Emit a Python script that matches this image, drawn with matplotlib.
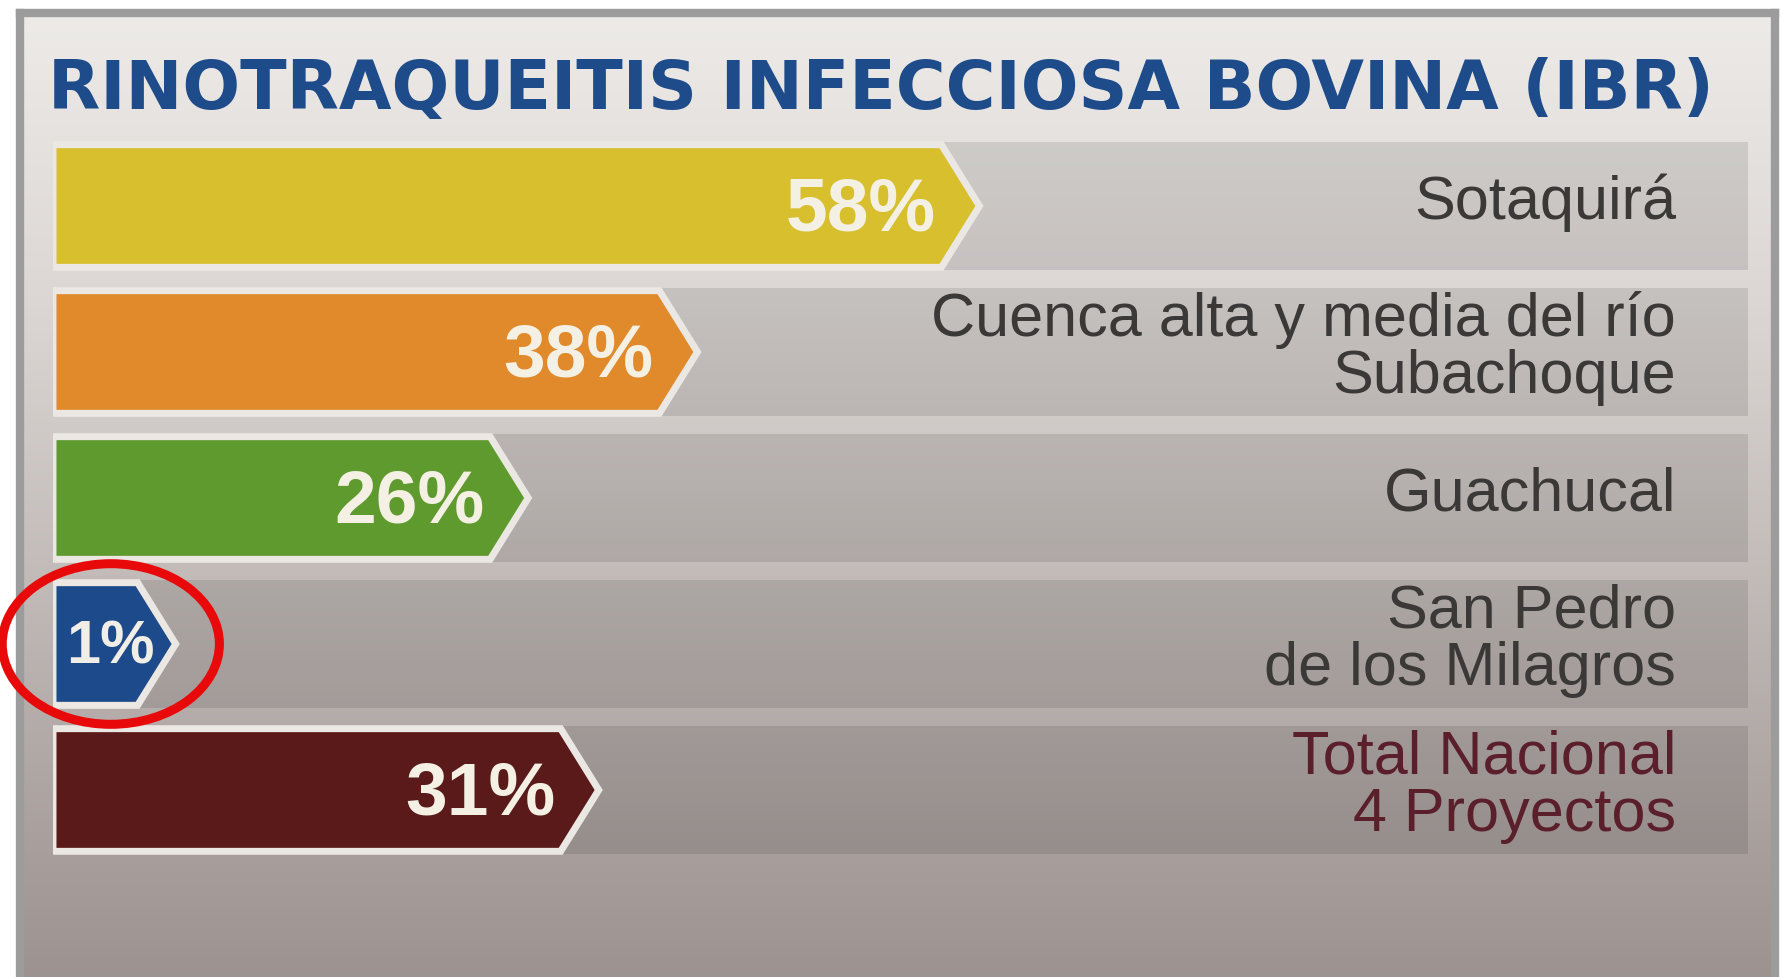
import numpy as np
import matplotlib
matplotlib.use("Agg")
import matplotlib.pyplot as plt
from matplotlib.patches import Polygon, Ellipse

plt.rcParams['font.family'] = ['Liberation Sans', 'DejaVu Sans']

# data
title = "RINOTRAQUEITIS INFECCIOSA BOVINA (IBR)"
categories = ["Sotaquirá",
              "Cuenca alta y media del río\nSubachoque",
              "Guachucal",
              "San Pedro\nde los Milagros",
              "Total Nacional\n4 Proyectos"]
values = [58, 38, 26, 1, 31]
bar_colors = ["#d8bf2e", "#e08a2b", "#5f9a2f", "#1d4a8a", "#5a1a1a"]
label_colors = ["#3b3838", "#3b3838", "#3b3838", "#3b3838", "#5b1f2b"]

W, H = 1791, 978
fig = plt.figure(figsize=(W / 100, H / 100), dpi=100)
fig.patch.set_facecolor("white")

# card background with photo-like shading
ax_bg = fig.add_axes([20 / W, -0.01, 1755 / W, 1.0 - 14 / H + 0.01])
ys = np.linspace(0, 1, 300)
top = np.array([0.93, 0.92, 0.91])
mid = np.array([0.86, 0.84, 0.83])
bot = np.array([0.61, 0.57, 0.56])
grad = np.where(ys[:, None] < 0.3,
                top + (mid - top) * (ys[:, None] / 0.3),
                mid + (bot - mid) * ((ys[:, None] - 0.3) / 0.7))
ax_bg.imshow(grad[:, None, :], aspect="auto", extent=[0, 1, 1, 0])
ax_bg.set_xticks([])
ax_bg.set_yticks([])
for s in ax_bg.spines.values():
    s.set_color("#9c9c9c")
    s.set_linewidth(6)

fig.text(48 / W, 1 - 90 / H, title, ha="left", va="center", fontsize=49,
         weight="bold", color="#1e4b8a", family="DejaVu Sans")

# main chart area
ax = fig.add_axes([53 / W, (H - 864) / H, 1695 / W, 730 / H])
ax.set_xlim(-5, 115.2)
ax.set_ylim(4.5, -0.5)
ax.axis("off")
ax.patch.set_visible(False)

x0 = -5
tip = 2.7
h = 0.84
ypos = np.arange(len(values))

# gray row bands
ax.barh(ypos, 120.2, left=x0, height=0.87, color="black", alpha=0.1, zorder=1)

for i, (v, c) in enumerate(zip(values, bar_colors)):
    pts = [(x0, i - h / 2), (v, i - h / 2), (v + tip, i), (v, i + h / 2), (x0, i + h / 2)]
    ax.add_patch(Polygon(pts, closed=True, facecolor=c, edgecolor="#ebe7e3",
                         lw=5, joinstyle="miter", zorder=2))
    if v < 5:
        ax.text(2.2, i + 0.02, f"{v}%", ha="right", va="center", fontsize=44,
                weight="bold", color="#f1eee8", zorder=3)
    else:
        ax.text(v - 0.4, i + 0.03, f"{v}%", ha="right", va="center", fontsize=54,
                weight="bold", color="#f4f0e4", zorder=3)
    ax.text(110.1, i - 0.03, categories[i], ha="right", va="center", fontsize=44,
            color=label_colors[i], linespacing=1.0, zorder=3)

# red highlight circle around the smallest value
ax.add_patch(Ellipse((-0.9, 3), 15.4, 1.1, fill=False, edgecolor="#e80a0a",
                     lw=6.5, clip_on=False, zorder=4))

fig.savefig("out.png", dpi=100)
